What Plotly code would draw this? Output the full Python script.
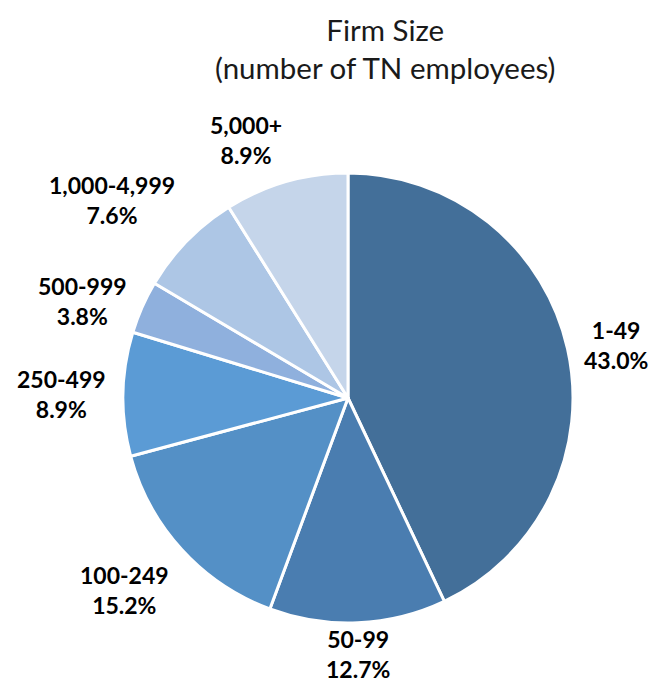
import math
import plotly.graph_objects as go

categories = ["1-49", "50-99", "100-249", "250-499", "500-999", "1,000-4,999", "5,000+"]
shares = [43.0, 12.7, 15.2, 8.9, 3.8, 7.6, 8.9]
pct_labels = ["43.0%", "12.7%", "15.2%", "8.9%", "3.8%", "7.6%", "8.9%"]
colors = ["#436F99", "#4A7DB0", "#5490C6", "#5B9BD5", "#8FB0DD", "#ADC6E5", "#C5D5EA"]

W, H = 657, 683
# pie box in pixels
px0, px1, py0, py1 = 123, 573, 173, 623
dom_x = [px0 / W, px1 / W]
dom_y = [1 - py1 / H, 1 - py0 / H]
cx, cy = (px0 + px1) / 2, (py0 + py1) / 2
R = min(px1 - px0, py1 - py0) / 2

fig = go.Figure(go.Pie(
    labels=categories, values=shares, sort=False, direction="clockwise",
    marker=dict(colors=colors, line=dict(color="white", width=3)),
    textinfo="none", hoverinfo="label+percent", showlegend=False,
    domain=dict(x=dom_x, y=dom_y),
))

annotations = []
total = sum(shares)
cum = 0
for cat, v, p in zip(categories, shares, pct_labels):
    mid = (cum + v / 2) / total * 2 * math.pi
    cum += v
    s, c = math.sin(mid), math.cos(mid)
    gap = 1 if c < -0.9 else (12 if c > 0.9 else 16)
    rr = R + gap
    x = cx + rr * s
    y = cy - rr * c
    xa = "left" if s > 0.25 else ("right" if s < -0.25 else "center")
    ya = "bottom" if c > 0.5 else ("top" if c < -0.5 else "middle")
    annotations.append(dict(
        x=x / W, y=1 - y / H, xref="paper", yref="paper",
        text=f"<b>{cat}<br>{p}</b>", showarrow=False,
        xanchor=xa, yanchor=ya, align="center", borderpad=0,
        font=dict(family="Lato, Open Sans, sans-serif", size=23, color="black"),
    ))

annotations.append(dict(
    x=385 / W, y=1 - 48 / H, xref="paper", yref="paper",
    text="Firm Size<br>(number of TN employees)", showarrow=False,
    xanchor="center", yanchor="middle", align="center",
    font=dict(family="Lato, Open Sans, sans-serif", size=29.5, color="#1a1a1a"),
))

fig.update_layout(
    width=W, height=H, margin=dict(l=0, r=0, t=0, b=0),
    paper_bgcolor="white", plot_bgcolor="white",
    annotations=annotations,
)

fig.write_html("out.html", config={"displayModeBar": False},
               post_script="document.body.style.margin='0';document.body.style.overflow='hidden';")
